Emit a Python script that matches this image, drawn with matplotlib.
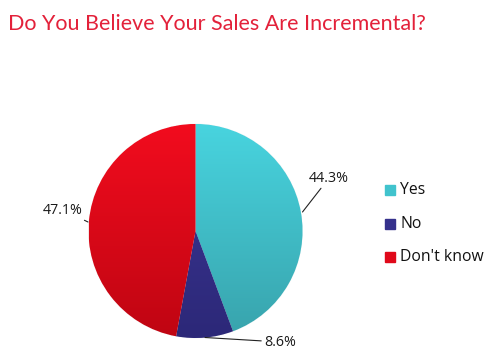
import matplotlib.pyplot as plt
import numpy as np
from matplotlib.colors import LinearSegmentedColormap

# data
labels = ["Yes", "No", "Don't know"]
shares = [44.3, 8.6, 47.1]
pct_text = ["44.3%", "8.6%", "47.1%"]

# gradient colours per slice (top, bottom)
grad = [("#48d4df", "#38a3ac"), ("#3d3797", "#2c2878"), ("#f20c1e", "#bf0512")]
legend_colors = ["#41c3cd", "#35318c", "#e0091a"]

plt.rcParams['font.family'] = ['Open Sans', 'DejaVu Sans']

fig = plt.figure(figsize=(5, 3.61), dpi=100)
ax = fig.add_axes([0, 0, 1, 1])

cx, cy, r = 195.5, 361 - 231, 107
wedges, _ = ax.pie(shares, startangle=90, counterclock=False, center=(cx, cy),
                   radius=r, colors=[c[0] for c in grad],
                   wedgeprops=dict(linewidth=0.6, edgecolor="#f4f4f4"), frame=True)

# vertical gradient fill clipped to each slice
yy = np.linspace(0, 1, 256).reshape(-1, 1)
for w, (top, bot) in zip(wedges, grad):
    cmap = LinearSegmentedColormap.from_list("g", [bot, top])
    im = ax.imshow(yy, cmap=cmap, extent=(cx - r, cx + r, cy - r, cy + r),
                   origin="lower", aspect="auto", zorder=1.5)
    im.set_clip_path(w)

# percentage labels with leader lines
line_kw = dict(arrowstyle="-", lw=0.8, color="#222222", shrinkA=0, shrinkB=0)
ax.annotate(pct_text[0], xy=(302.5, 361 - 212), xytext=(309, 361 - 178),
            fontsize=10.3, va="center", ha="left", color="#1a1a1a", arrowprops=line_kw)
ax.annotate(pct_text[1], xy=(205, 361 - 337.5), xytext=(264, 361 - 342),
            fontsize=10.3, va="center", ha="left", color="#1a1a1a", arrowprops=line_kw)
ax.annotate(pct_text[2], xy=(88, 361 - 222), xytext=(83, 361 - 210),
            fontsize=10.3, va="center", ha="right", color="#1a1a1a", arrowprops=line_kw)

# legend
for i, (lab, col) in enumerate(zip(labels, legend_colors)):
    y = 361 - (190 + 33.5 * i)
    ax.add_patch(plt.Rectangle((385, y - 5), 10, 10, color=col, zorder=3))
    ax.text(400, y, lab, fontsize=11.3, va="center", ha="left", color="#111111")

# title
ax.text(8, 361 - 24, "Do You Believe Your Sales Are Incremental?", fontsize=15.5,
        color="#e3213a", va="center", ha="left", family=['Lato', 'DejaVu Sans'])

ax.set_xlim(0, 500)
ax.set_ylim(0, 361)
ax.set_aspect("auto")
ax.axis("off")

fig.savefig("out.png", dpi=100)
